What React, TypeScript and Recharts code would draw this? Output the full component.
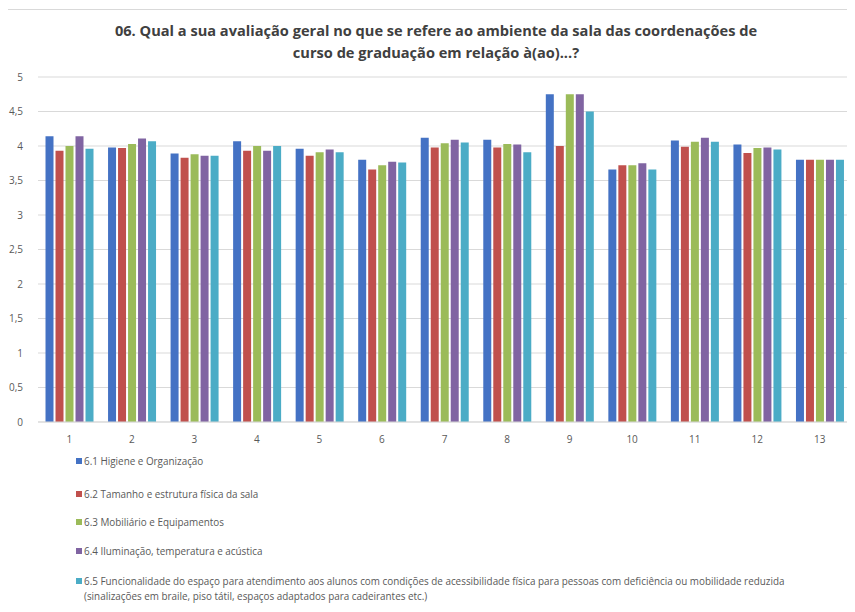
import React from 'react';
import { BarChart, Bar, XAxis, YAxis, CartesianGrid } from 'recharts';

const categories = ['1', '2', '3', '4', '5', '6', '7', '8', '9', '10', '11', '12', '13'];

const higiene = [4.14, 3.98, 3.89, 4.07, 3.96, 3.8, 4.12, 4.09, 4.75, 3.66, 4.08, 4.02, 3.8];
const tamanho = [3.93, 3.97, 3.83, 3.93, 3.86, 3.66, 3.98, 3.98, 4.0, 3.72, 3.99, 3.9, 3.8];
const mobiliario = [4.0, 4.03, 3.88, 4.0, 3.91, 3.72, 4.04, 4.03, 4.75, 3.72, 4.06, 3.97, 3.8];
const iluminacao = [4.14, 4.11, 3.86, 3.93, 3.95, 3.77, 4.09, 4.02, 4.75, 3.75, 4.12, 3.98, 3.8];
const funcionalidade = [3.96, 4.07, 3.86, 4.0, 3.91, 3.76, 4.05, 3.91, 4.5, 3.66, 4.06, 3.95, 3.8];

const yTicks = [0, 0.5, 1, 1.5, 2, 2.5, 3, 3.5, 4, 4.5, 5];

const series = [
  { key: 's1', name: ['6.1 Higiene e Organização'], color: '#4472C4', values: higiene },
  { key: 's2', name: ['6.2 Tamanho e estrutura física da sala'], color: '#C0504D', values: tamanho },
  { key: 's3', name: ['6.3 Mobiliário e Equipamentos'], color: '#9BBB59', values: mobiliario },
  { key: 's4', name: ['6.4 Iluminação, temperatura e acústica'], color: '#8064A2', values: iluminacao },
  {
    key: 's5',
    name: [
      '6.5 Funcionalidade do espaço para atendimento aos alunos com condições de acessibilidade física para pessoas com deficiência ou mobilidade reduzida',
      '(sinalizações em braile, piso tátil, espaços adaptados para cadeirantes etc.)',
    ],
    color: '#4BACC6',
    values: funcionalidade,
  },
];

const data = categories.map((c, i) => {
  const row: Record<string, string | number> = { name: c };
  series.forEach((s) => {
    row[s.key] = s.values[i];
  });
  return row;
});

const legendTops = [454, 487, 515, 544, 574];

export default function App() {
  const font = '"Open Sans", sans-serif';
  return (
    <div style={{ position: 'relative', width: 855, height: 612, margin: -8, background: '#fff', fontFamily: font, overflow: 'hidden' }}>
      <div
        style={{
          position: 'absolute',
          left: 5,
          top: 9,
          width: 870,
          height: 620,
          borderLeft: '1px solid #d9d9d9',
          borderTop: '1px solid #d9d9d9',
          boxSizing: 'border-box',
        }}
      />
      <div
        style={{
          position: 'absolute',
          left: 0,
          top: 19,
          width: 872,
          textAlign: 'center',
          fontSize: 14.6,
          fontWeight: 700,
          color: '#404040',
          lineHeight: '22px',
        }}
      >
        06. Qual a sua avaliação geral no que se refere ao ambiente da sala das coordenações de
        <br />
        curso de graduação em relação à(ao)...?
      </div>
      <div style={{ position: 'absolute', left: 0, top: 0 }}>
        <BarChart
          width={855}
          height={450}
          data={data}
          margin={{ top: 77, right: 4, left: 8, bottom: 0 }}
          barCategoryGap="12%"
          barGap={2}
        >
          <CartesianGrid vertical={false} stroke="#d9d9d9" />
          <XAxis
            dataKey="name"
            height={28}
            axisLine={{ stroke: '#d9d9d9' }}
            tickLine={false}
            tickMargin={8}
            tick={{ fontSize: 10, fill: '#595959', fontFamily: font }}
          />
          <YAxis
            width={30}
            domain={[0, 5]}
            ticks={yTicks}
            axisLine={false}
            tickLine={false}
            tickSize={0}
            tickMargin={15}
            tickFormatter={(v: number) => String(v).replace('.', ',')}
            tick={{ fontSize: 10, fill: '#595959', fontFamily: font }}
          />
          {series.map((s) => (
            <Bar key={s.key} dataKey={s.key} name={s.name.join(' ')} fill={s.color} isAnimationActive={false} />
          ))}
        </BarChart>
      </div>
      {series.map((s, i) => (
        <div
          key={s.key}
          style={{
            position: 'absolute',
            left: 76,
            top: legendTops[i],
            width: 770,
            fontSize: 9.9,
            lineHeight: '15px',
            color: '#595959',
            paddingLeft: 8,
            whiteSpace: 'nowrap',
          }}
        >
          <span
            style={{
              position: 'absolute',
              left: 0,
              top: 4,
              width: 6,
              height: 6,
              background: s.color,
            }}
          />
          {s.name.map((line, j) => (
            <div key={j}>{line}</div>
          ))}
        </div>
      ))}
    </div>
  );
}
